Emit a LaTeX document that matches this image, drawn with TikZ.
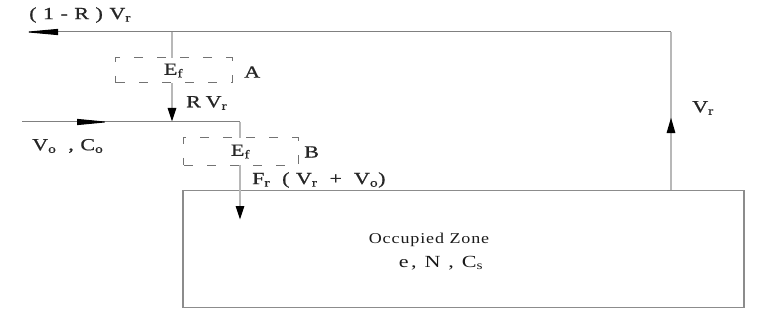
\documentclass[tikz,border=0pt]{standalone}
\usepackage{fontspec}
\setmainfont{Liberation Serif}[FakeStretch=1.2,LetterSpace=6]
\newfontfamily\wideserif{Liberation Serif}[FakeStretch=1.3,LetterSpace=38,FakeBold=0.8]
\newfontfamily\zoneserif{Liberation Serif}[FakeStretch=1.3,LetterSpace=14]
\usetikzlibrary{arrows.meta,decorations.markings}
\begin{document}
\begin{tikzpicture}[x=1pt,y=-1pt,
  hline/.style={draw=black!50,line width=1pt},
  vline/.style={draw=black!28,line width=2.8pt},
  filter/.style={draw=black!55,line width=1pt,fill=white,dash pattern=on 9pt off 14pt,dash phase=-1pt,
    minimum width=117pt,minimum height=25pt,inner sep=0pt},
  zone/.style={draw=black!45,line width=1.2pt,minimum width=561pt,minimum height=117pt,inner sep=0pt},
  lbl/.style={text=black!90,font=\fontsize{15}{17}\selectfont,inner sep=0pt},
  wlbl/.style={text=black!85,font=\wideserif\fontsize{17}{19}\selectfont,inner sep=0pt},
  tipH/.style={-{Triangle[length=35pt,width=6pt,color=black]}},
  tipV/.style={-{Triangle[length=14pt,width=8pt,color=black]}}
]
\useasboundingbox (0,0) rectangle (759,323);
% named points
\coordinate (TR) at (671,32);
\coordinate (TL) at (23,32);
\coordinate (J1) at (172,32);
\coordinate (J2) at (172,122);
\coordinate (L2) at (22,122);
\coordinate (K) at (240,122);
\coordinate (Btip) at (240,220);
\coordinate (R0) at (671,190);
% occupied zone
\node[zone] (Z) at (463.5,249) {};
\node[lbl] (zt) at (429,240) {Occupied Zone};
\node[lbl,font=\zoneserif\fontsize{17}{19}\selectfont] (zt2) at (441,263) {e, N , C\textsubscript{s}};
% flows
\draw[hline,tipH] (TR) -- (TL);
\draw[vline,tipV] (J1) -- (J2);
\draw[hline,postaction={decorate},decoration={markings,mark=at position 0.404 with {\arrow{Triangle[length=33pt,width=6pt,color=black]}}}] (L2) -- (K);
\draw[vline,tipV] (K) -- (Btip);
\draw[vline,postaction={decorate},decoration={markings,mark=at position 0.462 with {\arrow{Triangle[length=16pt,width=8pt,color=black]}}}] (R0) -- (TR);
% filters
\node[filter] (A) at (173.5,70.5) {};
\node[wlbl] at (A) {E\textsubscript{f}};
\node[wlbl,anchor=west] (Alab) at (244,72) {A};
\node[filter,minimum width=115pt,minimum height=27pt] (B) at (240.5,151.5) {};
\node[wlbl] at (B) {E\textsubscript{f}};
\node[wlbl,anchor=west] (Blab) at (304,152) {B};
% labels
\node[wlbl,anchor=west] (l1) at (29,15) {(1-R)V\textsubscript{r}};
\node[wlbl,anchor=west] (l2) at (186,103) {RV\textsubscript{r}};
\node[wlbl,anchor=west] (l3) at (32,146) {V\textsubscript{o} ,C\textsubscript{o}};
\node[wlbl,anchor=west] (l4) at (252,180) {F\textsubscript{r} (V\textsubscript{r} + V\textsubscript{o})};
\node[wlbl,anchor=west] (l5) at (692,108) {V\textsubscript{r}};
\end{tikzpicture}
\end{document}
